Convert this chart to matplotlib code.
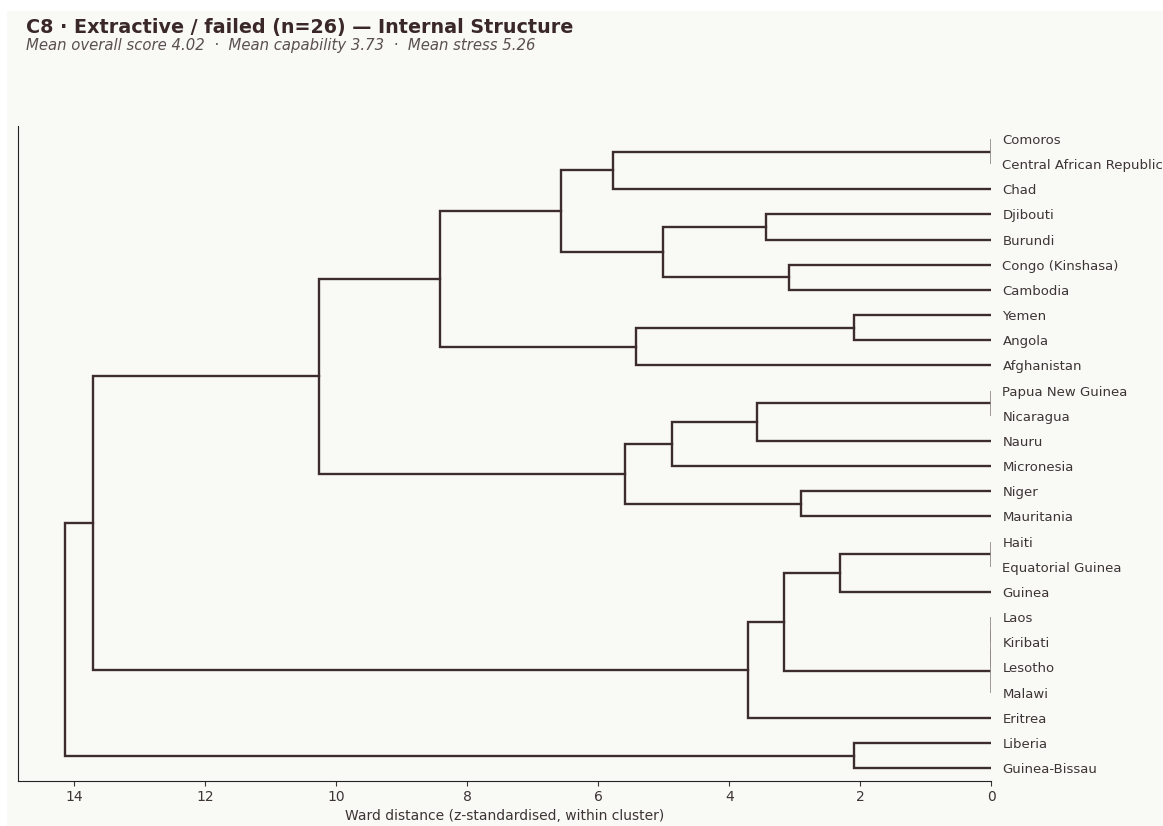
import matplotlib
matplotlib.use("Agg")
import matplotlib.pyplot as plt
from matplotlib.patches import Rectangle

# Leaves, top to bottom
leaves = [
    "Comoros", "Central African Republic", "Chad", "Djibouti", "Burundi",
    "Congo (Kinshasa)", "Cambodia", "Yemen", "Angola", "Afghanistan",
    "Papua New Guinea", "Nicaragua", "Nauru", "Micronesia", "Niger",
    "Mauritania", "Haiti", "Equatorial Guinea", "Guinea", "Laos",
    "Kiribati", "Lesotho", "Malawi", "Eritrea", "Liberia", "Guinea-Bissau",
]
n = len(leaves)

# linkage-style merges: (child a, child b, height); ids >= n refer to merge n + k
merge_a = [0, 26, 3, 5, 28, 27, 7, 32, 31, 10, 35, 36, 14, 37, 34, 16, 41, 19, 43, 44, 42, 46, 40, 24, 48]
merge_b = [1, 2, 4, 6, 29, 30, 8, 9, 33, 11, 12, 13, 15, 38, 39, 17, 18, 20, 21, 22, 45, 23, 47, 25, 49]
merge_h = [0.0, 5.78, 3.44, 3.09, 5.01, 6.57, 2.10, 5.42, 8.42, 0.0, 3.58, 4.88, 2.90, 5.59, 10.27,
           0.0, 2.31, 0.0, 0.0, 0.0, 3.17, 3.72, 13.72, 2.09, 14.15]

title = "C8 \u00b7 Extractive / failed (n=26) \u2014 Internal Structure"
subtitle = "Mean overall score 4.02  \u00b7  Mean capability 3.73  \u00b7  Mean stress 5.26"

line_col = "#3d2c2e"
zero_col = "#8f8888"
text_col = "#3d3434"
bg = "#f9f9f6"

fig = plt.figure(figsize=(11.63, 8.26), dpi=100, facecolor="white")
fig.patches.append(Rectangle((7 / 1163, 0), 1, 1 - 11 / 826, transform=fig.transFigure,
                             facecolor=bg, edgecolor="none", zorder=-10))
ax = fig.add_axes([18.3 / 1163, 1 - 780.7 / 826, (991.3 - 18.3) / 1163, (780.7 - 126.4) / 826])
ax.set_facecolor(bg)

ypos = {i: float(i) for i in range(n)}
hpos = {i: 0.0 for i in range(n)}
for k, (a, b, h) in enumerate(zip(merge_a, merge_b, merge_h)):
    ya, yb = ypos[a], ypos[b]
    if h == 0:
        # identical profiles: thin grey bar at zero distance
        ax.plot([0, 0], [ya, yb], color=zero_col, lw=1.2, solid_capstyle="butt", zorder=4)
    else:
        ax.plot([hpos[a], h, h, hpos[b]], [ya, ya, yb, yb], color=line_col, lw=1.7,
                solid_joinstyle="miter", zorder=3)
    ypos[n + k] = (ya + yb) / 2
    hpos[n + k] = h

ax.set_xlim(max(merge_h) * 1.05, 0)
ax.set_ylim(n - 0.5, -0.5)
ax.set_yticks(range(n))
ax.set_yticklabels(leaves)
ax.yaxis.tick_right()
ax.tick_params(axis="y", length=0, pad=8, labelsize=9.5, labelcolor=text_col)
ax.tick_params(axis="x", labelsize=10, labelcolor=text_col, color=text_col)
ax.set_xticks([14, 12, 10, 8, 6, 4, 2, 0])
ax.spines["top"].set_visible(False)
ax.spines["right"].set_visible(False)
ax.spines["left"].set_color("#222222")
ax.spines["bottom"].set_color("#222222")
ax.set_xlabel("Ward distance (z-standardised, within cluster)", fontsize=10, color=text_col, labelpad=3)

fig.text(26 / 1163, 1 - 28 / 826, title, fontsize=13.8, fontweight="bold", color="#3a2828", va="center")
fig.text(26 / 1163, 1 - 45.5 / 826, subtitle, fontsize=10.7, style="italic", color="#5a5050", va="center")

fig.savefig("out.png", dpi=100, facecolor="white")
